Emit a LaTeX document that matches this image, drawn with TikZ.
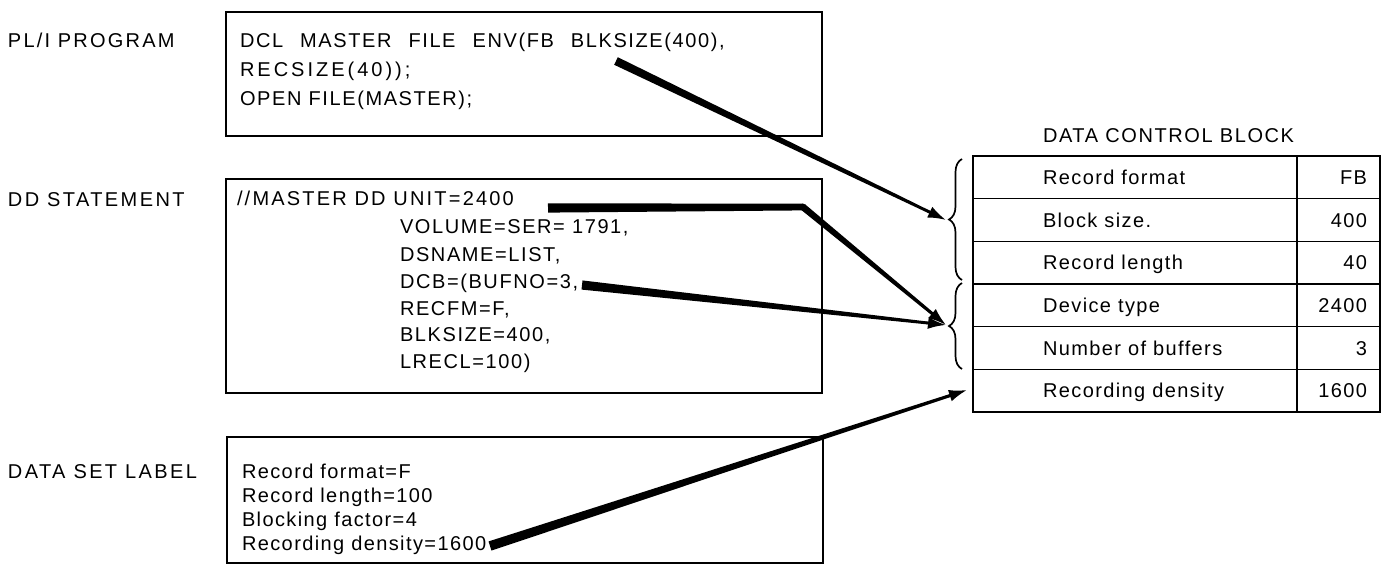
\documentclass[tikz,border=0pt]{standalone}
\usepackage{fontspec}
\setmainfont{Liberation Sans}
\usetikzlibrary{calc,arrows.meta,decorations.pathreplacing}
\newcommand\taperline[4]{%
  \fill ($(#1)!#3!90:(#2)$) -- ($(#2)!#4!-90:(#1)$) -- ($(#2)!#4!90:(#1)$) -- ($(#1)!#3!-90:(#2)$) -- cycle;}
\tikzset{
  txt/.style={anchor=base west, inner sep=0pt, outer sep=0pt, font=\fontsize{20}{24}\selectfont\addfontfeature{LetterSpace=#1}},
  txt/.default=7,
  valtxt/.style={anchor=base east, inner sep=0pt, outer sep=0pt, font=\fontsize{20}{24}\selectfont\addfontfeature{LetterSpace=7}},
  boxst/.style={draw, line width=1.8pt, anchor=north west, inner sep=0pt, outer sep=0pt},
  cellst/.style={draw, line width=1.6pt, anchor=north west, inner sep=0pt, outer sep=0pt, minimum height=42.67pt},
  bracest/.style={line width=1.7pt, decorate, decoration={brace, amplitude=13pt}},
  headst/.style={line width=2.4pt, -{Latex[length=18pt,width=12pt]}}
}
\begin{document}
\begin{tikzpicture}[x=1pt,y=-1pt]
\useasboundingbox (0,0) rectangle (1393,565);
% left labels
\node[txt=11] (lab1) at (8,47) {PL/I PROGRAM};
\node[txt=12] (lab2) at (8,206) {DD STATEMENT};
\node[txt=12] (lab3) at (8,478) {DATA SET LABEL};
% boxes
\node[boxst, minimum width=596pt, minimum height=124pt] (b1) at (226,12) {};
\node[boxst, minimum width=596pt, minimum height=214pt] (b2) at (226,179) {};
\node[boxst, minimum width=596pt, minimum height=126pt] (b3) at (227,437) {};
% box 1 text
\node[txt=8] (p1) at (240,47) {DCL\hspace{17pt}MASTER\hspace{17pt}FILE\hspace{17pt}ENV(FB\hspace{17pt}BLKSIZE(400),};
\node[txt=15] (p2) at (240,76) {RECSIZE(40));};
\node[txt=8] (p3) at (240,105) {OPEN FILE(MASTER);};
% box 2 text
\node[txt=11] (d1) at (237,205) {//MASTER DD UNIT=2400};
\node[txt=8] (d2) at (400,233) {VOLUME=SER= 1791,};
\node[txt=8] (d3) at (400,261) {DSNAME=LIST,};
\node[txt=8] (d4) at (400,288) {DCB=(BUFNO=3,};
\node[txt=8] (d5) at (400,315) {RECFM=F,};
\node[txt=8] (d6) at (400,341) {BLKSIZE=400,};
\node[txt=8] (d7) at (400,368) {LRECL=100)};
% box 3 text
\node[txt=7] (s1) at (242,478) {Record format=F};
\node[txt=7] (s2) at (242,502) {Record length=100};
\node[txt=7] (s3) at (242,526) {Blocking factor=4};
\node[txt=7] (s4) at (242,550) {Recording density=1600};
% data control block
\node[txt=8] (title) at (1043,142) {DATA CONTROL BLOCK};
\foreach \i/\name/\val in {0/Record format/FB,1/Block size./400,2/Record length/40,3/Device type/2400,4/Number of buffers/3,5/Recording density/1600}{
  \node[cellst, minimum width=324pt] (r\i) at (973,156+42.67*\i) {};
  \node[cellst, minimum width=83pt] (v\i) at (1297,156+42.67*\i) {};
  \node[txt=7] (rt\i) at ($(r\i.west)+(70,7)$) {\name};
  \node[valtxt] (vt\i) at ($(v\i.east)+(-13,7)$) {\val};
}
% braces
\coordinate (br1a) at (962,280);
\coordinate (br1b) at (962,159);
\coordinate (br2a) at (962,369);
\coordinate (br2b) at (962,283);
\draw[bracest] (br1a) -- (br1b);
\draw[bracest] (br2a) -- (br2b);
% arrow end points
\coordinate (tip1) at (946,220);
\coordinate (tip2) at (946,325);
\coordinate (tip3) at (967,390);
\coordinate (st1) at (616,61);
\coordinate (st2) at (548,208);
\coordinate (bend2) at (803,207);
\coordinate (st3) at (582,285);
\coordinate (st4) at (490,546);
% arrow 1 (BLKSIZE -> brace 1)
\taperline{st1}{$(tip1)!14pt!(st1)$}{4.2pt}{1.4pt}
\draw[headst] ($(tip1)!22pt!(st1)$) -- (tip1);
% arrow 2 (UNIT -> brace 2)
\taperline{st2}{bend2}{4.6pt}{3.4pt}
\fill (bend2) circle (3.4pt);
\taperline{bend2}{$(tip2)!14pt!(bend2)$}{3.4pt}{1.5pt}
\draw[headst] ($(tip2)!22pt!(bend2)$) -- (tip2);
% arrow 3 (BUFNO -> brace 2)
\taperline{st3}{$(tip2)!14pt!(st3)$}{4.6pt}{1.4pt}
\draw[headst] ($(tip2)!22pt!(st3)$) -- (tip2);
% arrow 4 (recording density -> DCB)
\taperline{st4}{$(tip3)!14pt!(st4)$}{4.8pt}{1.5pt}
\draw[headst] ($(tip3)!22pt!(st4)$) -- (tip3);
\end{tikzpicture}
\end{document}
